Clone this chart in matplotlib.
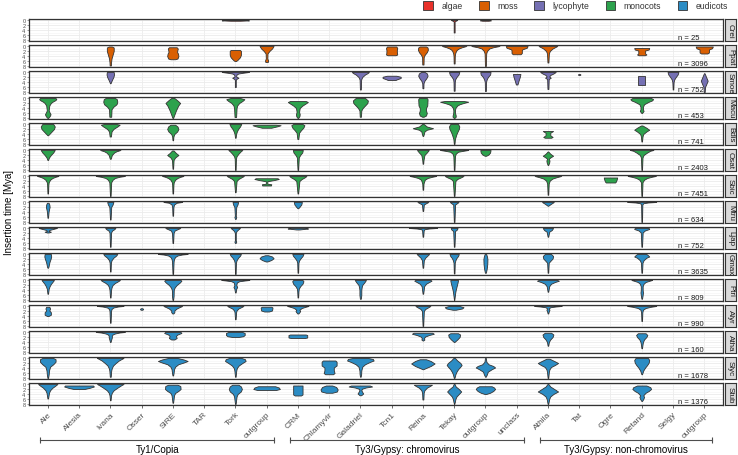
import numpy as np
import matplotlib
matplotlib.use('Agg')
import matplotlib.pyplot as plt
from matplotlib.patches import Patch

plt.rcParams['font.family'] = ['Liberation Sans', 'DejaVu Sans']

# x categories (keys are unique, labels are what is printed)
lineages = ['Ale', 'Alesia', 'Ivana', 'Osser', 'SIRE', 'TAR', 'Tork', 'outgroup_copia',
            'CRM', 'Chlamyvir', 'Galadriel', 'Tcn1', 'Reina', 'Tekay', 'outgroup_chromo', 'unclass',
            'Athila', 'Tat', 'Ogre', 'Retand', 'Selgy', 'outgroup_nonchromo']
lineage_labels = ['Ale', 'Alesia', 'Ivana', 'Osser', 'SIRE', 'TAR', 'Tork', 'outgroup',
                  'CRM', 'Chlamyvir', 'Galadriel', 'Tcn1', 'Reina', 'Tekay', 'outgroup', 'unclass',
                  'Athila', 'Tat', 'Ogre', 'Retand', 'Selgy', 'outgroup']

groups = ['Ty1/Copia', 'Ty3/Gypsy: chromovirus', 'Ty3/Gypsy: non-chromovirus']
group_first = ['Ale', 'CRM', 'Athila']
group_last = ['outgroup_copia', 'unclass', 'outgroup_nonchromo']

species = ['Crei', 'Ppat', 'Smoe', 'Macu', 'Bdis', 'Osat', 'Sbic', 'Mtru',
           'Ljap', 'Gmax', 'Ptri', 'Alyr', 'Atha', 'Slyc', 'Stub']
species_clade = ['algae', 'moss', 'lycophyte', 'monocots', 'monocots', 'monocots', 'monocots',
                 'eudicots', 'eudicots', 'eudicots', 'eudicots', 'eudicots', 'eudicots',
                 'eudicots', 'eudicots']
n_seqs = [25, 3096, 752, 453, 741, 2403, 7451, 634, 752, 3635, 809, 990, 160, 1678, 1376]

clades = ['algae', 'moss', 'lycophyte', 'monocots', 'eudicots']
clade_colors = ['#E8312A', '#D95F02', '#7570B3', '#2DA24D', '#2B8CC4']

# violin profiles: (lineage, insertion time [Mya], relative width)
crei = [
    ('Tork', [0, 0.15, 0.3], [0.7, 0.87, 0.3]),
    ('Tekay', [0, 0.3, 0.6, 5], [0.2, 0.1, 0.03, 0.03]),
    ('outgroup_chromo', [0, 0.15, 0.3], [0.3, 0.35, 0.2]),
]
ppat = [
    ('Ivana', [0.2, 0.6, 2, 3.5, 5, 6.5, 7.8], [0.1, 0.22, 0.22, 0.15, 0.08, 0.05, 0.04]),
    ('SIRE', [0.5, 1, 2, 2.5, 3, 4, 5, 5.3], [0.25, 0.32, 0.28, 0.28, 0.33, 0.36, 0.3, 0.15]),
    ('Tork', [1.6, 2, 3.5, 4.5, 5.5, 6], [0.3, 0.36, 0.36, 0.3, 0.15, 0.05]),
    ('outgroup_copia', [0, 1, 2, 3, 5, 5.8, 6.4], [0.45, 0.35, 0.18, 0.06, 0.05, 0.1, 0.08]),
    ('Tcn1', [0.2, 0.8, 1.8, 2.8, 3.4, 3.7], [0.3, 0.36, 0.33, 0.34, 0.36, 0.25]),
    ('Reina', [0.2, 0.6, 1.5, 2.5, 3.5, 4.5, 7.4], [0.2, 0.3, 0.32, 0.25, 0.12, 0.05, 0.04]),
    ('Tekay', [0, 0.5, 1, 1.5, 2, 3, 4, 7], [0.78, 0.5, 0.3, 0.18, 0.12, 0.06, 0.04, 0.03]),
    ('outgroup_chromo', [0, 0.5, 1, 2, 3, 8], [0.9, 0.5, 0.25, 0.1, 0.05, 0.03]),
    ('unclass', [0, 0.7, 1.3, 1.6, 2.8, 3.3], [0.7, 0.65, 0.38, 0.33, 0.33, 0.25]),
    ('Athila', [0, 0.5, 1, 2, 3, 6.6], [0.6, 0.45, 0.3, 0.12, 0.06, 0.03]),
    ('Retand', [0.8, 1.4, 1.8, 3, 3.4, 3.7], [0.48, 0.45, 0.22, 0.22, 0.3, 0.2]),
    ('outgroup_nonchromo', [0.2, 0.9, 1.4, 2.6, 3], [0.55, 0.5, 0.3, 0.3, 0.2]),
]
smoe = [
    ('Ivana', [0, 1, 2, 3, 4, 4.5], [0.22, 0.24, 0.2, 0.12, 0.05, 0.02]),
    ('Tork', [0, 0.3, 0.6, 1, 1.8, 2.3, 2.8, 3.2, 6], [0.87, 0.5, 0.2, 0.08, 0.05, 0.2, 0.06, 0.03, 0.03]),
    ('Galadriel', [0, 0.5, 1, 2, 3, 7], [0.55, 0.45, 0.3, 0.12, 0.05, 0.03]),
    ('Tcn1', [1.5, 1.9, 2.4, 2.9, 3.2], [0.3, 0.58, 0.58, 0.35, 0.25]),
    ('Reina', [0, 0.6, 1.5, 2.5, 3.5, 4.5, 6.5], [0.12, 0.26, 0.3, 0.22, 0.1, 0.04, 0.03]),
    ('Tekay', [0, 1, 2, 3, 4, 7.5], [0.33, 0.28, 0.15, 0.06, 0.04, 0.03]),
    ('outgroup_chromo', [0, 1, 2, 3, 4, 7.6], [0.33, 0.3, 0.16, 0.08, 0.04, 0.03]),
    ('unclass', [0.8, 2, 3.5, 5], [0.24, 0.2, 0.12, 0.05]),
    ('Athila', [0, 0.6, 1.2, 1.8, 2.3, 2.8, 6.8], [0.5, 0.35, 0.15, 0.08, 0.18, 0.05, 0.03]),
    ('Tat', [0.8, 1, 1.2], [0.05, 0.08, 0.05]),
    ('Retand', [1.6, 5], [0.22, 0.22]),
    ('Selgy', [0, 1, 2, 3, 4, 7], [0.35, 0.3, 0.18, 0.08, 0.04, 0.02]),
    ('outgroup_nonchromo', [0.5, 2, 3.5, 5, 6, 8], [0.02, 0.12, 0.22, 0.12, 0.05, 0.03]),
]
macu = [
    ('Ale', [0, 0.5, 1, 1.5, 2, 3, 5, 5.8, 6.5, 7.3, 8], [0.5, 0.55, 0.45, 0.3, 0.2, 0.1, 0.06, 0.12, 0.18, 0.12, 0.02]),
    ('Ivana', [0, 0.5, 1.5, 2.5, 3.5, 4.5, 7.5], [0.3, 0.42, 0.45, 0.4, 0.2, 0.08, 0.06]),
    ('SIRE', [0, 1, 2, 3, 5, 7, 8], [0.1, 0.3, 0.47, 0.35, 0.2, 0.08, 0.02]),
    ('Tork', [0, 0.5, 1.2, 2, 3, 4, 7.6], [0.3, 0.58, 0.45, 0.25, 0.12, 0.08, 0.05]),
    ('CRM', [1.2, 1.6, 2.2, 3, 4, 5.5, 6.5, 7.3, 8], [0.5, 0.64, 0.5, 0.3, 0.12, 0.08, 0.12, 0.1, 0.02]),
    ('Galadriel', [0, 1, 2, 3, 4, 5, 7.5], [0.3, 0.48, 0.45, 0.3, 0.15, 0.06, 0.04]),
    ('Reina', [0, 0.5, 3, 4, 5, 6, 7, 7.5], [0.25, 0.3, 0.28, 0.2, 0.2, 0.25, 0.2, 0.05]),
    ('Tekay', [1.2, 1.5, 2, 2.5, 3, 4, 5, 6, 7, 7.5, 8], [0.6, 0.9, 0.6, 0.35, 0.2, 0.08, 0.05, 0.06, 0.1, 0.1, 0.02]),
    ('Retand', [0, 0.5, 1, 1.5, 2.5, 3.5, 4.5, 5.2, 6], [0.6, 0.73, 0.65, 0.45, 0.15, 0.08, 0.08, 0.12, 0.02]),
]
bdis = [
    ('Ale', [0, 1, 2, 3, 4, 4.5], [0.35, 0.45, 0.4, 0.25, 0.1, 0.02]),
    ('Ivana', [0, 0.3, 1, 2, 3, 5], [0.4, 0.6, 0.45, 0.2, 0.08, 0.04]),
    ('SIRE', [0.3, 1, 2, 3, 4, 5, 6.5], [0.15, 0.3, 0.36, 0.28, 0.1, 0.04, 0.02]),
    ('Tork', [0, 1, 2, 3, 4, 5.5], [0.38, 0.3, 0.18, 0.1, 0.05, 0.02]),
    ('outgroup_copia', [0.3, 0.5, 0.9, 1.5], [0.6, 0.9, 0.7, 0.3]),
    ('CRM', [0, 0.5, 1.5, 2.5, 3.5, 6], [0.3, 0.42, 0.35, 0.2, 0.08, 0.03]),
    ('Reina', [0, 1, 1.7, 2.3, 3, 4, 4.8], [0.05, 0.25, 0.65, 0.25, 0.1, 0.06, 0.02]),
    ('Tekay', [0, 1, 2, 3, 4, 5, 6, 8], [0.25, 0.33, 0.3, 0.22, 0.15, 0.1, 0.05, 0.02]),
    ('Athila', [2.8, 3.5, 4.5, 5.2, 5.5], [0.33, 0.15, 0.15, 0.3, 0.2]),
    ('Retand', [0.6, 1.5, 2.3, 3, 4, 5, 7], [0.05, 0.3, 0.48, 0.3, 0.1, 0.05, 0.02]),
]
osat = [
    ('Ale', [0, 1, 2, 3, 4], [0.45, 0.35, 0.2, 0.08, 0.02]),
    ('Ivana', [0, 0.5, 1, 2, 3.5], [0.65, 0.4, 0.25, 0.1, 0.03]),
    ('SIRE', [0.2, 1.2, 2, 3, 4, 7.5], [0.05, 0.2, 0.36, 0.15, 0.05, 0.02]),
    ('Tork', [0, 0.5, 1.5, 2.5, 3.5, 8], [0.45, 0.35, 0.2, 0.08, 0.04, 0.02]),
    ('CRM', [0, 1, 2, 3, 8], [0.32, 0.28, 0.15, 0.06, 0.02]),
    ('Reina', [0, 1, 2, 4, 5.5], [0.38, 0.25, 0.1, 0.04, 0.02]),
    ('Tekay', [0, 0.3, 0.7, 1.5, 2.5, 8], [0.9, 0.6, 0.25, 0.1, 0.05, 0.02]),
    ('outgroup_chromo', [0, 1, 1.8, 2.3], [0.33, 0.3, 0.2, 0.05]),
    ('Athila', [0.6, 1.5, 2.3, 3, 3.5, 4.2, 5, 6], [0.02, 0.15, 0.33, 0.15, 0.05, 0.1, 0.08, 0.02]),
    ('Retand', [0, 0.3, 1, 2, 3, 8], [0.75, 0.55, 0.35, 0.12, 0.05, 0.02]),
]
sbic = [
    ('Ale', [0, 0.3, 0.8, 1.5, 2.5, 3.5, 7], [0.68, 0.5, 0.3, 0.15, 0.06, 0.04, 0.02]),
    ('Ivana', [0, 0.3, 0.8, 1.5, 2.5, 8], [0.93, 0.6, 0.3, 0.15, 0.06, 0.02]),
    ('SIRE', [0, 0.3, 0.8, 1.5, 2.5, 3.5, 7], [0.68, 0.5, 0.3, 0.15, 0.06, 0.04, 0.02]),
    ('Tork', [0, 0.5, 1.2, 2, 6.5], [0.55, 0.4, 0.2, 0.08, 0.02]),
    ('outgroup_copia', [0.9, 1.2, 1.6, 2.1, 3.1, 3.3, 3.8], [0.7, 0.78, 0.5, 0.05, 0.05, 0.3, 0.28]),
    ('CRM', [0, 0.5, 1.2, 2, 7], [0.55, 0.45, 0.25, 0.1, 0.02]),
    ('Reina', [0, 0.3, 0.8, 1.5, 3, 5.5], [0.85, 0.6, 0.3, 0.12, 0.04, 0.02]),
    ('Tekay', [0, 0.5, 1.2, 2, 8], [0.6, 0.45, 0.2, 0.08, 0.02]),
    ('Athila', [0, 0.4, 1, 1.8, 3, 7.5], [0.85, 0.6, 0.3, 0.12, 0.05, 0.02]),
    ('Ogre', [0.6, 1.4, 2.2, 2.6], [0.43, 0.4, 0.35, 0.3]),
    ('Retand', [0, 0.3, 0.8, 1.5, 2.5, 8], [0.9, 0.65, 0.35, 0.15, 0.05, 0.02]),
]
mtru = [
    ('Ale', [0.3, 1, 2, 3, 4, 6.3], [0.05, 0.1, 0.12, 0.08, 0.05, 0.02]),
    ('Ivana', [0, 1, 2, 7], [0.2, 0.15, 0.06, 0.02]),
    ('SIRE', [0, 0.3, 1, 2, 5.5], [0.6, 0.25, 0.08, 0.04, 0.02]),
    ('Tork', [0, 1, 2, 5.5, 6, 6.8], [0.18, 0.14, 0.06, 0.03, 0.06, 0.02]),
    ('CRM', [0, 1, 2, 2.5], [0.26, 0.22, 0.1, 0.02]),
    ('Reina', [0, 0.5, 1, 3.6], [0.35, 0.2, 0.06, 0.02]),
    ('Tekay', [0, 0.5, 1, 8], [0.28, 0.18, 0.06, 0.02]),
    ('Athila', [0, 0.7, 1.5], [0.38, 0.2, 0.02]),
    ('Retand', [0, 0.2, 0.5, 1, 8], [0.93, 0.4, 0.1, 0.04, 0.02]),
]
ljap = [
    ('Ale', [0, 0.3, 0.8, 1.2, 1.5, 1.8], [0.58, 0.4, 0.1, 0.05, 0.2, 0.05]),
    ('Ivana', [0, 0.5, 1, 1.8, 7.5], [0.33, 0.25, 0.12, 0.05, 0.02]),
    ('SIRE', [0, 0.5, 1, 2, 6], [0.48, 0.3, 0.12, 0.05, 0.02]),
    ('Tork', [0, 0.5, 1.2, 2, 5, 5.5, 6], [0.3, 0.2, 0.08, 0.03, 0.03, 0.06, 0.02]),
    ('CRM', [0, 0.2, 0.6], [0.5, 0.65, 0.1]),
    ('Reina', [0, 0.2, 0.5, 1, 3.5], [0.9, 0.4, 0.1, 0.05, 0.02]),
    ('Tekay', [0, 0.6, 1.2, 7.5], [0.22, 0.18, 0.06, 0.02]),
    ('Athila', [0, 0.8, 1.5, 3.5], [0.33, 0.25, 0.08, 0.02]),
    ('Retand', [0, 0.4, 1, 1.8, 7.5], [0.45, 0.48, 0.2, 0.06, 0.02]),
]
gmax = [
    ('Ale', [0, 1, 2, 3, 4, 5, 5.5], [0.2, 0.22, 0.18, 0.12, 0.08, 0.05, 0.02]),
    ('Ivana', [0, 0.6, 1.5, 2.5, 3.5, 7], [0.45, 0.38, 0.2, 0.08, 0.04, 0.02]),
    ('SIRE', [0, 0.2, 0.6, 1.2, 2, 3, 8], [0.95, 0.6, 0.3, 0.15, 0.08, 0.05, 0.02]),
    ('Tork', [0, 0.7, 1.5, 2.5, 3.5, 8], [0.36, 0.3, 0.18, 0.08, 0.04, 0.02]),
    ('outgroup_copia', [0.5, 1, 1.7, 2.4, 3], [0.1, 0.35, 0.45, 0.3, 0.05]),
    ('CRM', [0, 0.8, 1.7, 2.6, 3.5, 7.5], [0.36, 0.3, 0.18, 0.08, 0.04, 0.02]),
    ('Reina', [0, 0.6, 1.5, 2.5, 5.5], [0.4, 0.3, 0.15, 0.06, 0.02]),
    ('Tekay', [0, 0.8, 1.6, 2.5, 3.5, 7.8], [0.3, 0.25, 0.15, 0.08, 0.04, 0.02]),
    ('outgroup_chromo', [0, 1, 2, 4, 6, 7.5], [0.05, 0.1, 0.13, 0.12, 0.08, 0.03]),
    ('Athila', [0, 0.8, 1.8, 2.8, 3.5, 7.5], [0.2, 0.33, 0.3, 0.15, 0.05, 0.02]),
    ('Retand', [0, 0.5, 1, 1.5, 2.5, 3.5, 7.5], [0.3, 0.4, 0.48, 0.3, 0.12, 0.05, 0.02]),
]
ptri = [
    ('Ale', [0, 0.8, 1.6, 2.5, 3.5, 4.5, 5.5], [0.4, 0.3, 0.2, 0.12, 0.06, 0.04, 0.02]),
    ('Ivana', [0, 0.5, 1.2, 2, 3, 4, 7], [0.62, 0.5, 0.3, 0.15, 0.08, 0.05, 0.02]),
    ('SIRE', [0, 0.3, 1, 2, 3, 4, 6.5, 8], [0.5, 0.55, 0.45, 0.25, 0.12, 0.06, 0.05, 0.02]),
    ('Tork', [0, 0.2, 0.5, 1, 2, 2.8, 3.5, 5], [0.9, 0.6, 0.25, 0.1, 0.06, 0.12, 0.06, 0.02]),
    ('CRM', [0, 0.5, 1.5, 2.5, 3.5, 4.5, 7], [0.3, 0.36, 0.3, 0.15, 0.06, 0.04, 0.02]),
    ('Galadriel', [0, 1, 2, 3, 4, 6, 7.5], [0.36, 0.25, 0.12, 0.08, 0.06, 0.06, 0.03]),
    ('Reina', [0, 0.3, 0.8, 1.5, 2.5, 5.5], [0.5, 0.55, 0.4, 0.2, 0.08, 0.02]),
    ('Tekay', [0, 1, 2, 3, 4, 5, 6, 7, 8], [0.25, 0.22, 0.18, 0.14, 0.1, 0.07, 0.05, 0.03, 0.01]),
    ('Athila', [0, 0.3, 0.8, 1.5, 2.5, 4.7], [0.6, 0.7, 0.45, 0.2, 0.08, 0.02]),
    ('Retand', [0, 0.3, 0.8, 1.5, 2.5, 4, 5, 6, 7.5], [0.66, 0.5, 0.25, 0.12, 0.06, 0.06, 0.08, 0.06, 0.02]),
]
alyr = [
    ('Ale', [0.3, 1, 1.8, 2.5, 3.5, 4], [0.1, 0.15, 0.1, 0.2, 0.2, 0.05]),
    ('Ivana', [0, 0.2, 0.6, 1.2, 2, 6.7], [0.85, 0.5, 0.2, 0.08, 0.05, 0.02]),
    ('Osser', [0.9, 1.2, 1.5], [0.06, 0.1, 0.06]),
    ('SIRE', [0, 0.4, 1, 1.8, 2.5, 3], [0.6, 0.45, 0.25, 0.1, 0.1, 0.03]),
    ('Tork', [0, 0.4, 1, 1.8, 2.5, 5.3], [0.52, 0.4, 0.2, 0.08, 0.05, 0.02]),
    ('outgroup_copia', [0.3, 0.6, 1.8, 2.2], [0.3, 0.38, 0.35, 0.15]),
    ('CRM', [0, 0.3, 0.8, 1.5, 2, 2.5, 3], [0.68, 0.5, 0.25, 0.1, 0.15, 0.1, 0.03]),
    ('Reina', [0, 0.5, 1.2, 2, 8], [0.48, 0.35, 0.15, 0.06, 0.02]),
    ('Tekay', [0, 0.5, 1, 1.5], [0.35, 0.6, 0.5, 0.1]),
    ('Athila', [0, 0.2, 0.5, 1, 1.5, 2, 3], [0.88, 0.5, 0.15, 0.05, 0.1, 0.06, 0.02]),
    ('Retand', [0, 0.3, 0.8, 1.5, 2.5, 6], [0.93, 0.6, 0.25, 0.08, 0.04, 0.02]),
]
atha = [
    ('Ivana', [0, 0.2, 0.6, 1, 1.5, 2.2, 3, 4], [0.93, 0.6, 0.3, 0.15, 0.1, 0.1, 0.06, 0.02]),
    ('SIRE', [0, 0.4, 1, 1.6, 2.4, 3], [0.5, 0.55, 0.3, 0.2, 0.25, 0.1]),
    ('Tork', [0, 0.4, 1.2, 1.7, 2], [0.45, 0.6, 0.6, 0.5, 0.2]),
    ('CRM', [1, 1.2, 2.2, 2.4], [0.5, 0.6, 0.6, 0.45]),
    ('Reina', [0.3, 0.7, 1.2, 1.8, 2.5, 3, 3.4], [0.6, 0.7, 0.4, 0.15, 0.06, 0.1, 0.02]),
    ('Tekay', [0.5, 1, 2, 3, 4], [0.25, 0.38, 0.35, 0.2, 0.02]),
    ('Athila', [0.3, 1, 2, 3, 4, 5.5], [0.2, 0.35, 0.3, 0.15, 0.06, 0.02]),
    ('Retand', [0.5, 1.2, 2, 3, 4, 5, 6.5], [0.25, 0.36, 0.3, 0.15, 0.08, 0.05, 0.02]),
]
slyc = [
    ('Ale', [0, 0.5, 1.5, 2.5, 3.5, 5, 6.5, 8], [0.35, 0.5, 0.5, 0.35, 0.15, 0.08, 0.06, 0.02]),
    ('Ivana', [0, 0.3, 1, 2, 3, 4, 5, 7.5], [0.85, 0.75, 0.55, 0.35, 0.18, 0.1, 0.06, 0.03]),
    ('SIRE', [0, 0.6, 1.2, 1.8, 2.5, 3.5, 4.5, 6, 7], [0.3, 0.7, 0.95, 0.7, 0.35, 0.15, 0.08, 0.05, 0.02]),
    ('Tork', [0, 0.5, 1.2, 2, 3, 4, 5, 7.5], [0.4, 0.62, 0.66, 0.45, 0.22, 0.1, 0.06, 0.02]),
    ('Chlamyvir', [1, 1.5, 3, 3.8, 5, 6, 6.5], [0.4, 0.48, 0.48, 0.3, 0.3, 0.35, 0.25]),
    ('Galadriel', [0, 0.4, 1, 1.6, 2.5, 3.5, 5, 6.5, 7.5], [0.5, 0.8, 0.85, 0.6, 0.3, 0.12, 0.06, 0.05, 0.02]),
    ('Reina', [0.5, 1.2, 2.2, 3.2, 4, 4.5], [0.2, 0.5, 0.75, 0.5, 0.2, 0.02]),
    ('Tekay', [0, 1, 2, 2.8, 3.6, 4.5, 5.5, 6.5, 8], [0.05, 0.2, 0.4, 0.48, 0.38, 0.25, 0.15, 0.08, 0.02]),
    ('outgroup_chromo', [0, 1.5, 2.5, 3.2, 3.8, 4.5, 5.5, 6.5, 7.5], [0.03, 0.06, 0.2, 0.5, 0.62, 0.4, 0.15, 0.1, 0.02]),
    ('Athila', [0.3, 1.2, 2, 2.8, 3.6, 4.5, 5.5, 8], [0.1, 0.4, 0.65, 0.45, 0.2, 0.1, 0.06, 0.02]),
    ('Retand', [0, 0.8, 1.8, 2.8, 3.8, 5, 6.5], [0.4, 0.48, 0.45, 0.35, 0.22, 0.1, 0.02]),
]
stub = [
    ('Ale', [0, 0.6, 1.5, 2.5, 3.5, 5.8], [0.62, 0.5, 0.3, 0.15, 0.08, 0.02]),
    ('Alesia', [0.6, 1, 1.5, 2], [0.9, 0.95, 0.7, 0.35]),
    ('Ivana', [0, 0.5, 1.5, 2.5, 3.5, 4.5, 6.5], [0.85, 0.7, 0.45, 0.22, 0.1, 0.05, 0.02]),
    ('SIRE', [0.3, 0.8, 2, 2.8, 3.6, 4.5, 6, 7.5], [0.3, 0.48, 0.5, 0.35, 0.15, 0.08, 0.05, 0.02]),
    ('Tork', [0.3, 1, 2, 3, 4, 5, 6.5, 8], [0.2, 0.36, 0.42, 0.35, 0.15, 0.08, 0.05, 0.02]),
    ('outgroup_copia', [0.9, 1.4, 2, 2.4], [0.55, 0.78, 0.85, 0.6]),
    ('CRM', [0.6, 4.2, 4.6], [0.3, 0.3, 0.2]),
    ('Chlamyvir', [0.6, 1.2, 2.2, 3, 3.5], [0.2, 0.45, 0.55, 0.5, 0.2]),
    ('Galadriel', [0.6, 1, 1.4, 1.9, 2.5, 3.2, 3.8, 4.5], [0.6, 0.75, 0.35, 0.1, 0.06, 0.12, 0.18, 0.05]),
    ('Reina', [0.3, 0.8, 1.5, 2.5, 3.5, 6.2], [0.58, 0.45, 0.25, 0.1, 0.05, 0.03]),
    ('Tekay', [0, 1, 2, 3, 4, 5, 6, 7, 8], [0.03, 0.1, 0.3, 0.45, 0.3, 0.15, 0.08, 0.05, 0.01]),
    ('outgroup_chromo', [0.9, 1.4, 2, 2.8, 3.5, 4], [0.4, 0.55, 0.62, 0.5, 0.3, 0.05]),
    ('Athila', [0, 1, 2, 3, 4, 5, 6, 8], [0.03, 0.15, 0.4, 0.65, 0.35, 0.15, 0.08, 0.02]),
    ('Retand', [0.6, 1.3, 2, 2.8, 3.5, 4.5, 5.2, 6, 6.8], [0.3, 0.55, 0.6, 0.45, 0.25, 0.1, 0.15, 0.1, 0.02]),
]

panels = [crei, ppat, smoe, macu, bdis, osat, sbic, mtru, ljap, gmax, ptri, alyr, atha, slyc, stub]

W, H = 738, 456
fig = plt.figure(figsize=(W / 100, H / 100), dpi=100)


def px_box(left, top, w, h):
    return [left / W, 1 - (top + h) / H, w / W, h / H]


ax_left, ax_width = 29, 694
top0, step, ph = 20, 26, 22
axes = []
for i, sp in enumerate(species):
    ax = fig.add_axes(px_box(ax_left, top0 + step * i, ax_width, ph))
    axes.append(ax)
    color = clade_colors[clades.index(species_clade[i])]
    for name, depth, width in panels[i]:
        stats = dict(coords=np.array(depth, float), vals=np.array(width, float),
                     mean=depth[0], median=depth[0], min=depth[0], max=depth[-1])
        parts = ax.violin([stats], positions=[lineages.index(name)], widths=[max(width)],
                          showextrema=False)
        for body in parts['bodies']:
            body.set_facecolor(color)
            body.set_edgecolor('#333333')
            body.set_alpha(1)
            body.set_linewidth(0.6)
            body.set_zorder(3)

    ax.set_xlim(-0.6, len(lineages) - 0.4)
    ax.set_ylim(8.4, -0.4)
    ax.set_xticks(range(len(lineages)))
    ax.set_yticks([0, 2, 4, 6, 8])
    ax.set_yticks([1, 3, 5, 7], minor=True)
    ax.grid(which='major', color='#ebebeb', lw=0.6)
    ax.grid(which='minor', axis='y', color='#f3f3f3', lw=0.4)
    ax.set_axisbelow(True)
    ax.tick_params(axis='y', which='major', labelsize=4, colors='#4d4d4d', length=1.5, width=0.4, pad=1)
    ax.tick_params(axis='y', which='minor', length=0)
    for s in ax.spines.values():
        s.set_color('#333333')
        s.set_linewidth(0.9)
    if i < len(species) - 1:
        ax.tick_params(axis='x', length=0, labelbottom=False)
    else:
        ax.set_xticklabels(lineage_labels, rotation=45, ha='right', rotation_mode='anchor',
                           fontsize=6, color='#4d4d4d')
        ax.tick_params(axis='x', length=2, width=0.5, colors='#333333', labelcolor='#4d4d4d', pad=2)
    ax.text(20.15, 7.0, f'n = {n_seqs[i]}', fontsize=5.5, color='#1a1a1a', va='center', ha='left')

    # facet strip on the right
    sax = fig.add_axes(px_box(725, top0 + step * i, 11, ph))
    sax.set_facecolor('#d9d9d9')
    sax.set_xticks([])
    sax.set_yticks([])
    for s in sax.spines.values():
        s.set_color('#333333')
        s.set_linewidth(0.8)
    sax.text(0.5, 0.5, sp, rotation=-90, ha='center', va='center', fontsize=5.8, color='#1a1a1a',
             transform=sax.transAxes)

# group brackets below the x labels
bottom = axes[-1]
trans = bottom.get_xaxis_transform()
for g, first, last in zip(groups, group_first, group_last):
    x0 = lineages.index(first) - 0.25
    x1 = lineages.index(last) + 0.25
    bottom.plot([x0, x1], [-1.57, -1.57], color='#4d4d4d', lw=0.8, transform=trans, clip_on=False)
    bottom.plot([x0, x1], [-1.57, -1.57], ls='none', marker='|', ms=4, mew=0.8,
                color='#4d4d4d', transform=trans, clip_on=False)
    bottom.text((x0 + x1) / 2, -1.98, g, transform=trans, ha='center', va='center', fontsize=7)

fig.text(0.012, 1 - 213 / H, 'Insertion time [Mya]', rotation=90, ha='center', va='center', fontsize=7)

handles = [Patch(facecolor=c, edgecolor='#333333', linewidth=0.6) for c in clade_colors]
fig.legend(handles, clades, loc='upper right', bbox_to_anchor=(0.997, 1.012), ncol=5,
           frameon=False, fontsize=6.2, handlelength=1.1, handleheight=1.1,
           handletextpad=1.0, columnspacing=1.9, labelcolor='#333333')

fig.savefig('out.png', dpi=100)
